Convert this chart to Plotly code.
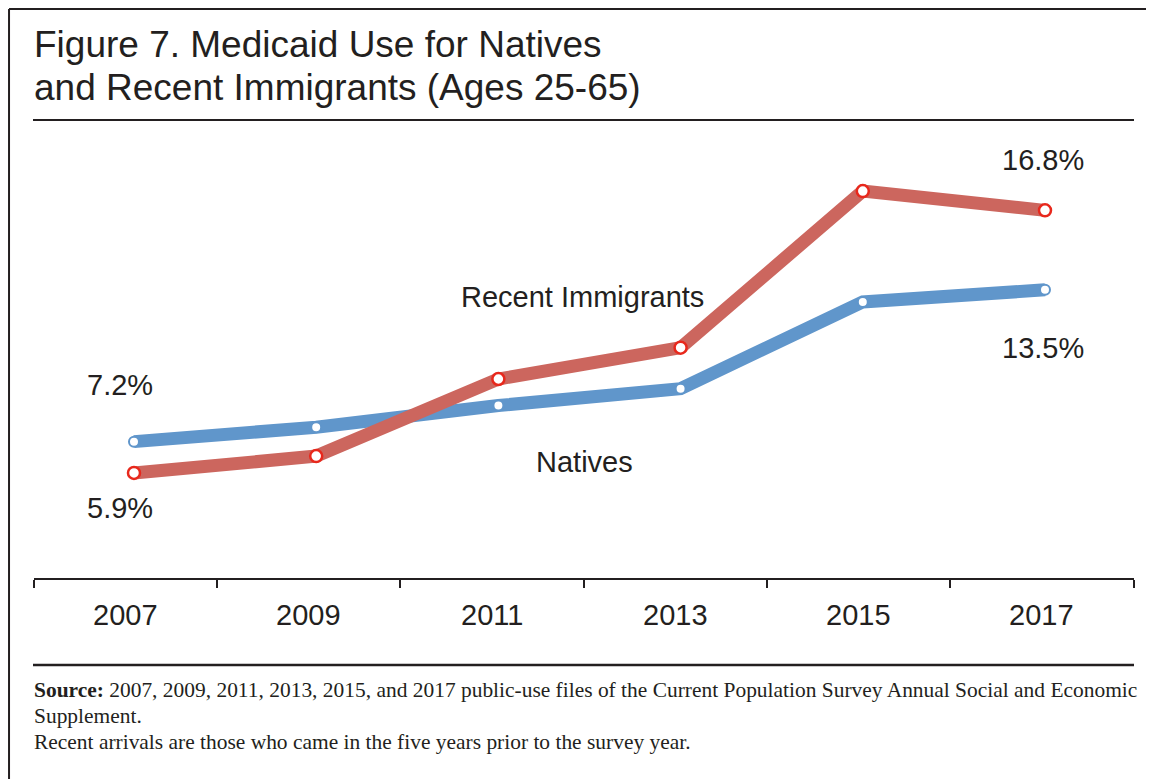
import plotly.graph_objects as go

years = ["2007", "2009", "2011", "2013", "2015", "2017"]
natives = [7.2, 7.8, 8.7, 9.4, 13.0, 13.5]
recent = [5.9, 6.6, 9.8, 11.1, 17.6, 16.8]

BLUE = "#6096CB"
RED = "#CC665E"
MARK_RED = "#E8281C"

xi = list(range(len(years)))
bounds = [-0.547, 0.4555, 1.46, 2.47, 3.474, 4.479, 5.487]
mids = [(bounds[k] + bounds[k + 1]) / 2 for k in range(len(years))]

fig = go.Figure()
fig.add_trace(go.Scatter(
    x=xi, y=natives, mode="lines+markers", name="Natives",
    line=dict(color=BLUE, width=13),
    marker=dict(size=10, color="white", line=dict(color=BLUE, width=2)),
))
fig.add_trace(go.Scatter(
    x=xi, y=recent, mode="lines+markers", name="Recent Immigrants",
    line=dict(color=RED, width=13),
    marker=dict(size=12, color="white", line=dict(color=MARK_RED, width=2.5)),
))

FONT = "Liberation Sans, Arial, Helvetica, sans-serif"
ann = []
lab_font = dict(family=FONT, size=29, color="#231F20")
ann.append(dict(x=-0.077, y=9.55, text=f"{natives[0]:.1f}%", showarrow=False, font=lab_font))
ann.append(dict(x=-0.077, y=4.45, text=f"{recent[0]:.1f}%", showarrow=False, font=lab_font))
ann.append(dict(x=4.99, y=18.89, text=f"{recent[-1]:.1f}%", showarrow=False, font=lab_font))
ann.append(dict(x=4.99, y=11.09, text=f"{natives[-1]:.1f}%", showarrow=False, font=lab_font))
ann.append(dict(x=2.464, y=13.2, text="Recent Immigrants", showarrow=False, font=lab_font))
ann.append(dict(x=2.47, y=6.36, text="Natives", showarrow=False, font=lab_font))
for m, yr in zip(mids, years):
    ann.append(dict(x=m, xref="x", y=-0.0845, yref="paper", yanchor="middle", text=yr,
                    showarrow=False, font=dict(family=FONT, size=29, color="#231F20")))

title_font = dict(family=FONT, size=37, color="#231F20")
ann.append(dict(x=-0.0015, xref="paper", y=1.2169, yref="paper", xanchor="left", yanchor="middle",
                text="Figure 7. Medicaid Use for Natives", showarrow=False, font=title_font))
ann.append(dict(x=-0.0015, xref="paper", y=1.121, yref="paper", xanchor="left", yanchor="middle",
                text="and Recent Immigrants (Ages 25-65)", showarrow=False, font=title_font))

foot_font = dict(family="Liberation Serif, Times New Roman, serif", size=21.45, color="#231F20")
foot_lines = [
    "<b>Source:</b> 2007, 2009, 2011, 2013, 2015, and 2017 public-use files of the Current Population Survey Annual Social and Economic",
    "Supplement.",
    "Recent arrivals are those who came in the five years prior to the survey year.",
]
for k, t in enumerate(foot_lines):
    ypx = 690 + 26 * k
    ann.append(dict(x=-0.0015, xref="paper", y=(578 - ypx) / 438, yref="paper", xanchor="left",
                    yanchor="middle", text=t, showarrow=False, font=foot_font, align="left"))

FRAME = "#231F20"
shapes = [
    # frame: left and top edges only
    dict(type="line", xref="paper", yref="paper", x0=-0.0227, x1=-0.0227, y0=-0.48, y1=1.2991,
         line=dict(color=FRAME, width=2)),
    dict(type="line", xref="paper", yref="paper", x0=-0.0227, x1=1.03, y0=1.2991, y1=1.2991,
         line=dict(color=FRAME, width=2)),
    dict(type="line", xref="paper", yref="paper", x0=-0.0009, x1=1.0, y0=1.0457, y1=1.0457,
         line=dict(color=FRAME, width=2)),
    dict(type="line", xref="paper", yref="paper", x0=-0.0009, x1=1.0, y0=-0.1986, y1=-0.1986,
         line=dict(color=FRAME, width=2.5)),
]

fig.update_layout(
    width=1154, height=779,
    margin=dict(l=26, r=28, t=132, b=209),
    paper_bgcolor="white", plot_bgcolor="white",
    showlegend=False,
    annotations=ann, shapes=shapes,
    xaxis=dict(range=[-0.5488, 5.4885], showgrid=False, zeroline=False, showline=True,
               linecolor=FRAME, linewidth=2, ticks="outside", ticklen=8, tickwidth=2,
               tickcolor=FRAME, tickvals=bounds, showticklabels=False),
    yaxis=dict(range=[1.54, 19.72], visible=False),
)

fig.write_html("out.html")
